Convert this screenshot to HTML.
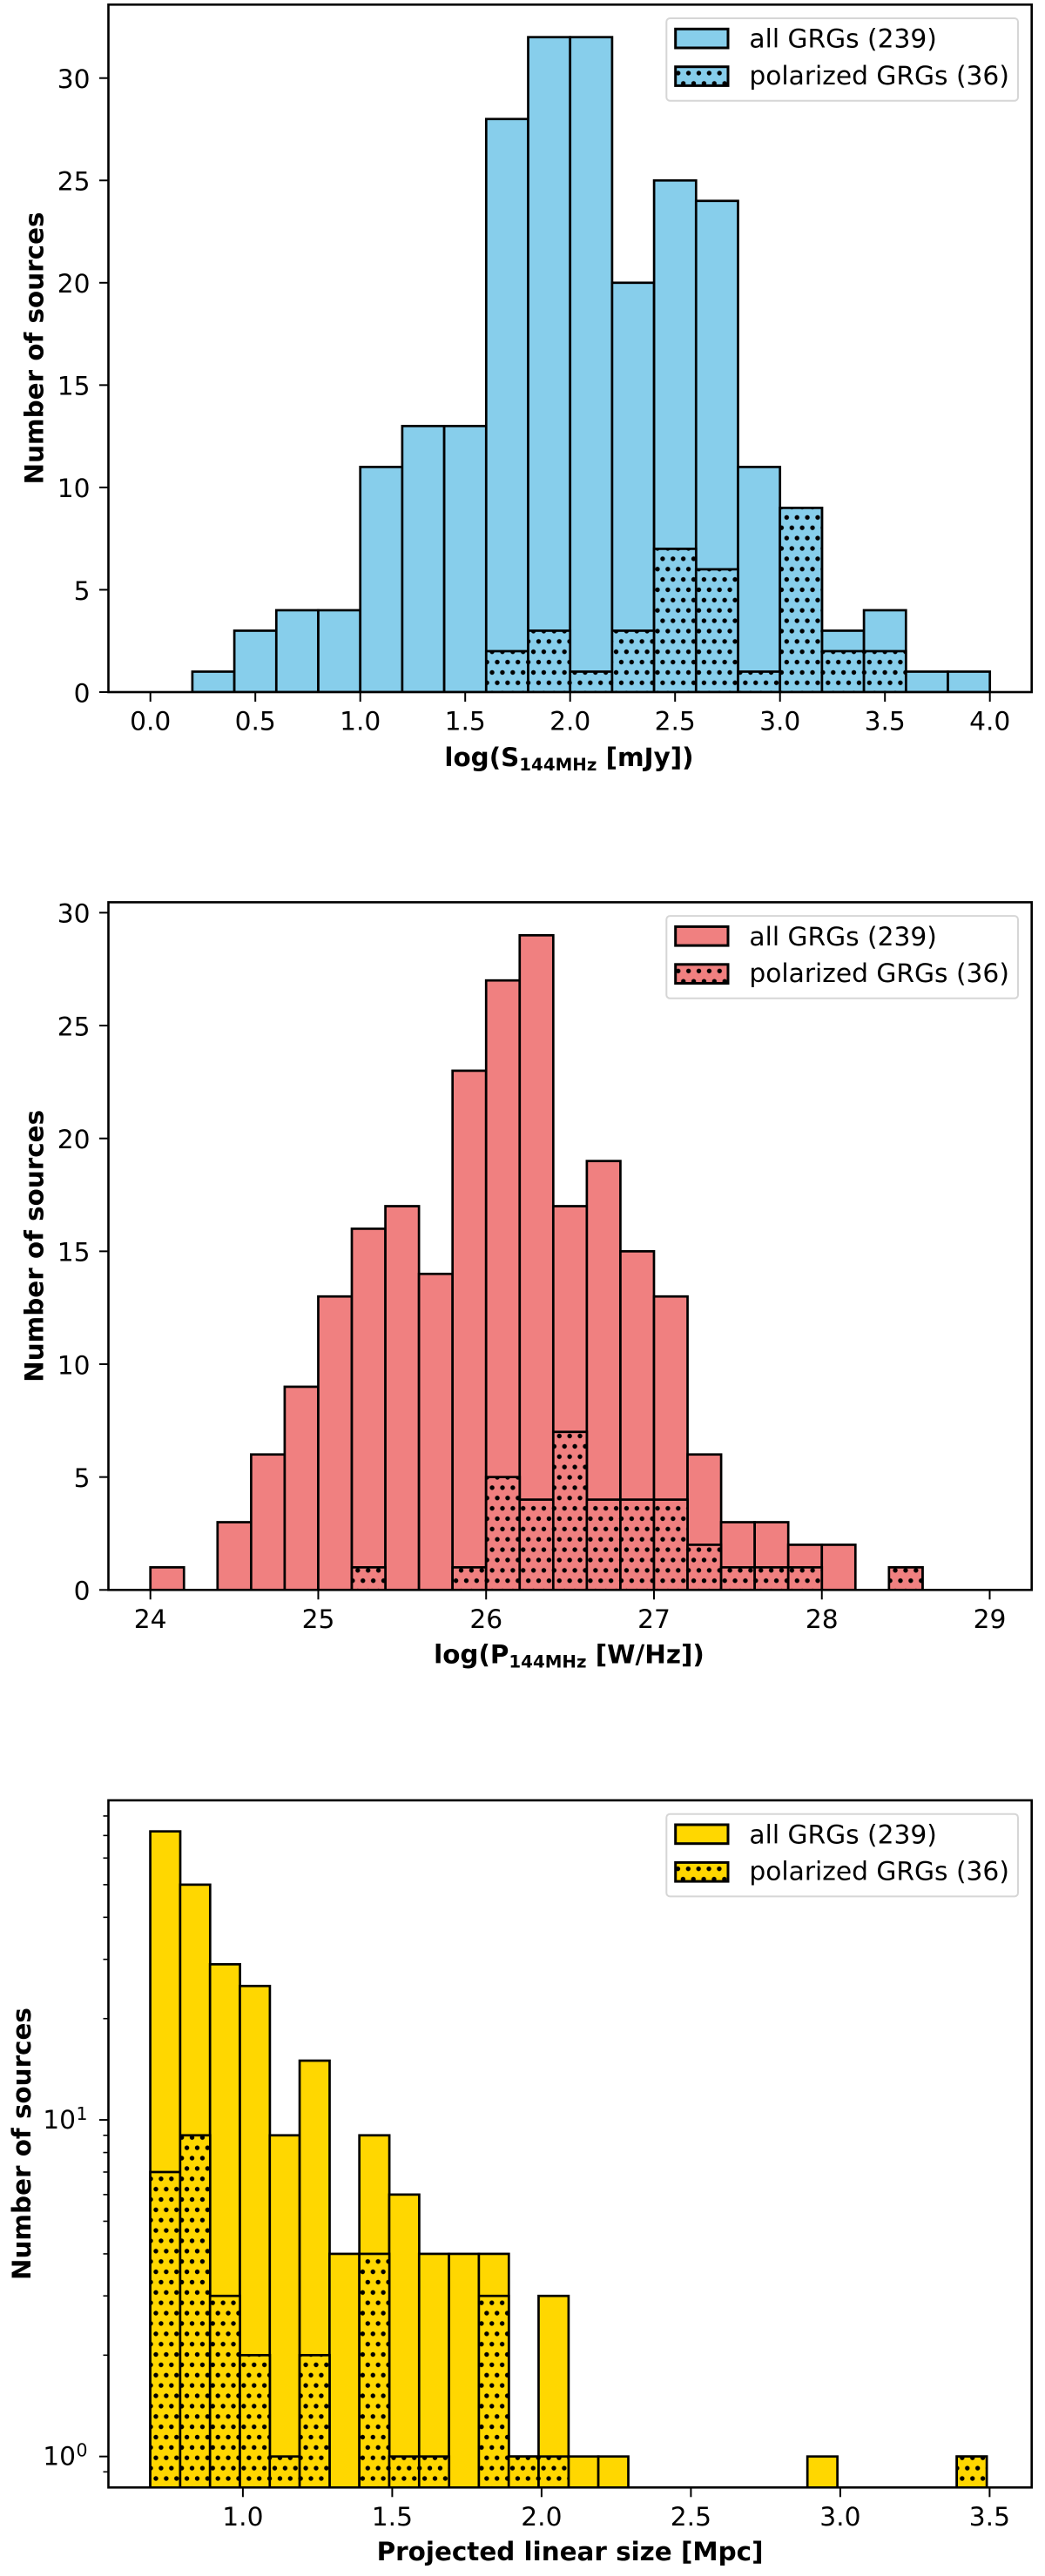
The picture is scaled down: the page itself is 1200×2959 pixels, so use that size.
<!DOCTYPE html>
<html lang="en">
<head>
<meta charset="utf-8">
<title>GRG histograms</title>
<style>
  html, body { margin: 0; padding: 0; background: #fff; }
  svg { display: block; font-family: "DejaVu Sans", "Liberation Sans", sans-serif; fill: #000; }
  .tick-label { font-size: 29.7px; }
  .legend-text { font-size: 29.7px; }
  .axis-title { font-size: 29.4px; font-weight: bold; }
  .spine { fill: none; stroke: #000; stroke-width: 2.6; }
  .legend-frame { fill: #fff; stroke: #d6d6d6; stroke-width: 2; }
  .handle { stroke: #000; stroke-width: 3; }
</style>
</head>
<body>
<svg id="figure" xmlns="http://www.w3.org/2000/svg" width="1200" height="2959" viewBox="0 0 1200 2959">
  <defs>
    <pattern id="hatch-flux" patternUnits="userSpaceOnUse" width="11.87" height="23.74" patternTransform="translate(568.03 781.33)">
      <circle cx="2.97" cy="2.97" r="2.7" fill="#000"/><circle cx="8.9" cy="14.84" r="2.7" fill="#000"/>
    </pattern>
    <pattern id="hatch-power" patternUnits="userSpaceOnUse" width="11.87" height="23.74" patternTransform="translate(1031.03 1812.73)">
      <circle cx="2.97" cy="2.97" r="2.7" fill="#000"/><circle cx="8.9" cy="14.84" r="2.7" fill="#000"/>
    </pattern>
    <pattern id="hatch-size" patternUnits="userSpaceOnUse" width="11.87" height="23.74" patternTransform="translate(176.03 2844.03)">
      <circle cx="2.97" cy="2.97" r="2.7" fill="#000"/><circle cx="8.9" cy="14.84" r="2.7" fill="#000"/>
    </pattern>
    <clipPath id="clip-flux"><rect x="124.5" y="5.3" width="1060.2" height="789.7"/></clipPath>
    <clipPath id="clip-power"><rect x="124.5" y="1036.4" width="1060.2" height="789.9"/></clipPath>
    <clipPath id="clip-size"><rect x="124.5" y="2068" width="1060.2" height="789.3"/></clipPath>
  </defs>

  <!-- Panel 1 -->
  <g id="panel-flux">
    <g id="flux-bars" clip-path="url(#clip-flux)"></g>
    <rect class="spine" x="124.5" y="5.3" width="1060.2" height="789.7"/>
    <g id="flux-ticks"></g>
    <text class="axis-title" x="653.5" y="880" text-anchor="middle">log(S<tspan font-size="19.8" dy="5">144MHz</tspan><tspan dy="-5"> [mJy])</tspan></text>
    <text class="axis-title" transform="translate(49.5 400) rotate(-90)" text-anchor="middle">Number of sources</text>
    <g>
      <rect class="legend-frame" x="765.3" y="21" width="403.7" height="94.7" rx="4"/>
      <rect class="handle" x="775.7" y="33.3" width="60.3" height="21.7" fill="#87CEEB"/>
      <text class="legend-text" x="860.4" y="54.7">all GRGs (239)</text>
      <rect x="775.7" y="76.7" width="60.3" height="21.7" fill="#87CEEB"/>
      <rect class="handle" x="775.7" y="76.7" width="60.3" height="21.7" fill="url(#hatch-flux)"/>
      <text class="legend-text" x="860.4" y="97">polarized GRGs (36)</text>
    </g>
  </g>

  <!-- Panel 2 -->
  <g id="panel-power">
    <g id="power-bars" clip-path="url(#clip-power)"></g>
    <rect class="spine" x="124.5" y="1036.4" width="1060.2" height="789.9"/>
    <g id="power-ticks"></g>
    <text class="axis-title" x="653.5" y="1910.6" text-anchor="middle">log(P<tspan font-size="19.8" dy="5">144MHz</tspan><tspan dy="-5"> [W/Hz])</tspan></text>
    <text class="axis-title" transform="translate(49.5 1431.4) rotate(-90)" text-anchor="middle">Number of sources</text>
    <g>
      <rect class="legend-frame" x="765.3" y="1052.1" width="403.7" height="94.7" rx="4"/>
      <rect class="handle" x="775.7" y="1064.4" width="60.3" height="21.7" fill="#F08080"/>
      <text class="legend-text" x="860.4" y="1085.8">all GRGs (239)</text>
      <rect x="775.7" y="1107.8" width="60.3" height="21.7" fill="#F08080"/>
      <rect class="handle" x="775.7" y="1107.8" width="60.3" height="21.7" fill="url(#hatch-power)"/>
      <text class="legend-text" x="860.4" y="1128.1">polarized GRGs (36)</text>
    </g>
  </g>

  <!-- Panel 3 -->
  <g id="panel-size">
    <g id="size-bars" clip-path="url(#clip-size)"></g>
    <rect class="spine" x="124.5" y="2068" width="1060.2" height="789.3"/>
    <g id="size-ticks"></g>
    <text class="axis-title" x="654.6" y="2941" text-anchor="middle">Projected linear size [Mpc]</text>
    <text class="axis-title" transform="translate(35 2462.6) rotate(-90)" text-anchor="middle">Number of sources</text>
    <g>
      <rect class="legend-frame" x="765.3" y="2083.7" width="403.7" height="94.7" rx="4"/>
      <rect class="handle" x="775.7" y="2096" width="60.3" height="21.7" fill="#FFD700"/>
      <text class="legend-text" x="860.4" y="2117.4">all GRGs (239)</text>
      <rect x="775.7" y="2139.4" width="60.3" height="21.7" fill="#FFD700"/>
      <rect class="handle" x="775.7" y="2139.4" width="60.3" height="21.7" fill="url(#hatch-size)"/>
      <text class="legend-text" x="860.4" y="2159.7">polarized GRGs (36)</text>
    </g>
  </g>
</svg>

<script>
// Panel 1: log(S_144MHz)
const fluxBinStarts = [0.0, 0.2, 0.4, 0.6, 0.8, 1.0, 1.2, 1.4, 1.6, 1.8, 2.0, 2.2, 2.4, 2.6, 2.8, 3.0, 3.2, 3.4, 3.6, 3.8];
const fluxBinWidth = 0.2;
const fluxAllCounts = [0, 1, 3, 4, 4, 11, 13, 13, 28, 32, 32, 20, 25, 24, 11, 9, 3, 4, 1, 1];
const fluxPolarizedCounts = [0, 0, 0, 0, 0, 0, 0, 0, 2, 3, 1, 3, 7, 6, 1, 9, 2, 2, 0, 0];
const fluxXTicks = [0.0, 0.5, 1.0, 1.5, 2.0, 2.5, 3.0, 3.5, 4.0];
const fluxXTickLabels = ['0.0', '0.5', '1.0', '1.5', '2.0', '2.5', '3.0', '3.5', '4.0'];
const fluxYTicks = [0, 5, 10, 15, 20, 25, 30];

// Panel 2: log(P_144MHz)
const powerBinStarts = [24.0, 24.2, 24.4, 24.6, 24.8, 25.0, 25.2, 25.4, 25.6, 25.8, 26.0, 26.2, 26.4, 26.6, 26.8, 27.0, 27.2, 27.4, 27.6, 27.8, 28.0, 28.2, 28.4, 28.6, 28.8];
const powerBinWidth = 0.2;
const powerAllCounts = [1, 0, 3, 6, 9, 13, 16, 17, 14, 23, 27, 29, 17, 19, 15, 13, 6, 3, 3, 2, 2, 0, 1, 0, 0];
const powerPolarizedCounts = [0, 0, 0, 0, 0, 0, 1, 0, 0, 1, 5, 4, 7, 4, 4, 4, 2, 1, 1, 1, 0, 0, 1, 0, 0];
const powerXTicks = [24, 25, 26, 27, 28, 29];
const powerXTickLabels = ['24', '25', '26', '27', '28', '29'];
const powerYTicks = [0, 5, 10, 15, 20, 25, 30];

// Panel 3: projected linear size (log y)
const sizeBinStarts = [0.69, 0.79, 0.89, 0.99, 1.09, 1.19, 1.29, 1.39, 1.49, 1.59, 1.69, 1.79, 1.89, 1.99, 2.09, 2.19, 2.29, 2.39, 2.49, 2.59, 2.69, 2.79, 2.89, 2.99, 3.09, 3.19, 3.29, 3.39];
const sizeBinWidth = 0.1004;
const sizeAllCounts = [72, 50, 29, 25, 9, 15, 4, 9, 6, 4, 4, 4, 1, 3, 1, 1, 0, 0, 0, 0, 0, 0, 1, 0, 0, 0, 0, 1];
const sizePolarizedCounts = [7, 9, 3, 2, 1, 2, 0, 4, 1, 1, 0, 3, 1, 1, 0, 0, 0, 0, 0, 0, 0, 0, 0, 0, 0, 0, 0, 1];
const sizeXTicks = [1.0, 1.5, 2.0, 2.5, 3.0, 3.5];
const sizeXTickLabels = ['1.0', '1.5', '2.0', '2.5', '3.0', '3.5'];
const sizeMajorYTicks = [1, 10];
const sizeMajorYExponents = ['0', '1'];
const sizeMinorYTicks = [0.9, 2, 3, 4, 5, 6, 7, 8, 9, 20, 30, 40, 50, 60, 70, 80];

const SVG_NS = 'http://www.w3.org/2000/svg';

// Axis functions
function xFlux(v) { return 172.7 + 241 * v; }
function yFlux(v) { return 795 - 23.51 * v; }
function xPower(v) { return 172.7 + 192.76 * (v - 24); }
function yPower(v) { return 1826.3 - 25.93 * v; }
function xSize(v) { return 278.9 + 343 * (v - 1); }
function ySize(v) { return 2821.7 - 386.6 * Math.log10(v); }

function make(tag, parent) {
  const node = document.createElementNS(SVG_NS, tag);
  parent.appendChild(node);
  return node;
}

function drawBars(prefix, xScale, yScale, baselineY, binStarts, binWidth, allCounts, polarizedCounts, colour) {
  const layer = document.getElementById(prefix + '-bars');
  binStarts.forEach(function (start, i) {
    if (allCounts[i] <= 0) return;
    const left = xScale(start);
    const right = xScale(start + binWidth);
    const top = yScale(allCounts[i]);
    const bar = make('rect', layer);
    
    
    bar.setAttribute('x', left);
    bar.setAttribute('y', top);
    bar.setAttribute('width', right - left);
    bar.setAttribute('height', baselineY - top);
    bar.setAttribute('fill', colour);
    bar.setAttribute('stroke', '#000');
    bar.setAttribute('stroke-width', '2.7');
  });
  binStarts.forEach(function (start, i) {
    if (polarizedCounts[i] <= 0) return;
    const left = xScale(start);
    const right = xScale(start + binWidth);
    const top = yScale(polarizedCounts[i]);
    const fillBar = make('rect', layer);
    
    
    fillBar.setAttribute('x', left);
    fillBar.setAttribute('y', top);
    fillBar.setAttribute('width', right - left);
    fillBar.setAttribute('height', baselineY - top);
    fillBar.setAttribute('fill', colour);
    const bar = make('rect', layer);
    
    
    bar.setAttribute('x', left);
    bar.setAttribute('y', top);
    bar.setAttribute('width', right - left);
    bar.setAttribute('height', baselineY - top);
    bar.setAttribute('fill', 'url(#hatch-' + prefix + ')');
    bar.setAttribute('stroke', '#000');
    bar.setAttribute('stroke-width', '2.7');
  });
}

function drawXTicks(prefix, xScale, baselineY, ticks, labels) {
  const layer = document.getElementById(prefix + '-ticks');
  ticks.forEach(function (value, i) {
    const x = xScale(value);
    const tick = make('line', layer);
    
    
    tick.setAttribute('x1', x);
    tick.setAttribute('x2', x);
    tick.setAttribute('y1', baselineY);
    tick.setAttribute('y2', baselineY + 11);
    tick.setAttribute('stroke', '#000');
    tick.setAttribute('stroke-width', '2');
    const label = make('text', layer);
    
    
    label.setAttribute('class', 'tick-label');
    label.setAttribute('x', x);
    label.setAttribute('y', baselineY + 43.5);
    label.setAttribute('text-anchor', 'middle');
    label.textContent = labels[i];
  });
}

function drawYTicks(prefix, yScale, ticks) {
  const layer = document.getElementById(prefix + '-ticks');
  ticks.forEach(function (value) {
    const y = yScale(value);
    const tick = make('line', layer);
    
    
    tick.setAttribute('x1', 114);
    tick.setAttribute('x2', 124.5);
    tick.setAttribute('y1', y);
    tick.setAttribute('y2', y);
    tick.setAttribute('stroke', '#000');
    tick.setAttribute('stroke-width', '2');
    const label = make('text', layer);
    
    
    label.setAttribute('class', 'tick-label');
    label.setAttribute('x', 103.5);
    label.setAttribute('y', y + 11.3);
    label.setAttribute('text-anchor', 'end');
    label.textContent = String(value);
  });
}

function drawLogYTicks(prefix, yScale, majorTicks, exponents, minorTicks) {
  const layer = document.getElementById(prefix + '-ticks');
  minorTicks.forEach(function (value) {
    const y = yScale(value);
    const tick = make('line', layer);
    
    
    tick.setAttribute('x1', 118.5);
    tick.setAttribute('x2', 124.5);
    tick.setAttribute('y1', y);
    tick.setAttribute('y2', y);
    tick.setAttribute('stroke', '#000');
    tick.setAttribute('stroke-width', '1.6');
  });
  majorTicks.forEach(function (value, i) {
    const y = yScale(value);
    const tick = make('line', layer);
    
    
    tick.setAttribute('x1', 114);
    tick.setAttribute('x2', 124.5);
    tick.setAttribute('y1', y);
    tick.setAttribute('y2', y);
    tick.setAttribute('stroke', '#000');
    tick.setAttribute('stroke-width', '2');
    const base = make('text', layer);
    
    
    base.setAttribute('class', 'tick-label');
    base.setAttribute('x', 87);
    base.setAttribute('y', y + 10);
    base.setAttribute('text-anchor', 'end');
    base.textContent = '10';
    const power = make('text', layer);
    
    
    power.setAttribute('x', 87.5);
    power.setAttribute('y', y);
    power.setAttribute('font-size', '20.5');
    power.textContent = exponents[i];
  });
}

drawBars('flux', xFlux, yFlux, yFlux(0), fluxBinStarts, fluxBinWidth, fluxAllCounts, fluxPolarizedCounts, '#87CEEB');
drawXTicks('flux', xFlux, yFlux(0), fluxXTicks, fluxXTickLabels);
drawYTicks('flux', yFlux, fluxYTicks);

drawBars('power', xPower, yPower, yPower(0), powerBinStarts, powerBinWidth, powerAllCounts, powerPolarizedCounts, '#F08080');
drawXTicks('power', xPower, yPower(0), powerXTicks, powerXTickLabels);
drawYTicks('power', yPower, powerYTicks);

drawBars('size', xSize, ySize, 2880, sizeBinStarts, sizeBinWidth, sizeAllCounts, sizePolarizedCounts, '#FFD700');
drawXTicks('size', xSize, 2857.3, sizeXTicks, sizeXTickLabels);
drawLogYTicks('size', ySize, sizeMajorYTicks, sizeMajorYExponents, sizeMinorYTicks);
</script>
</body>
</html>
